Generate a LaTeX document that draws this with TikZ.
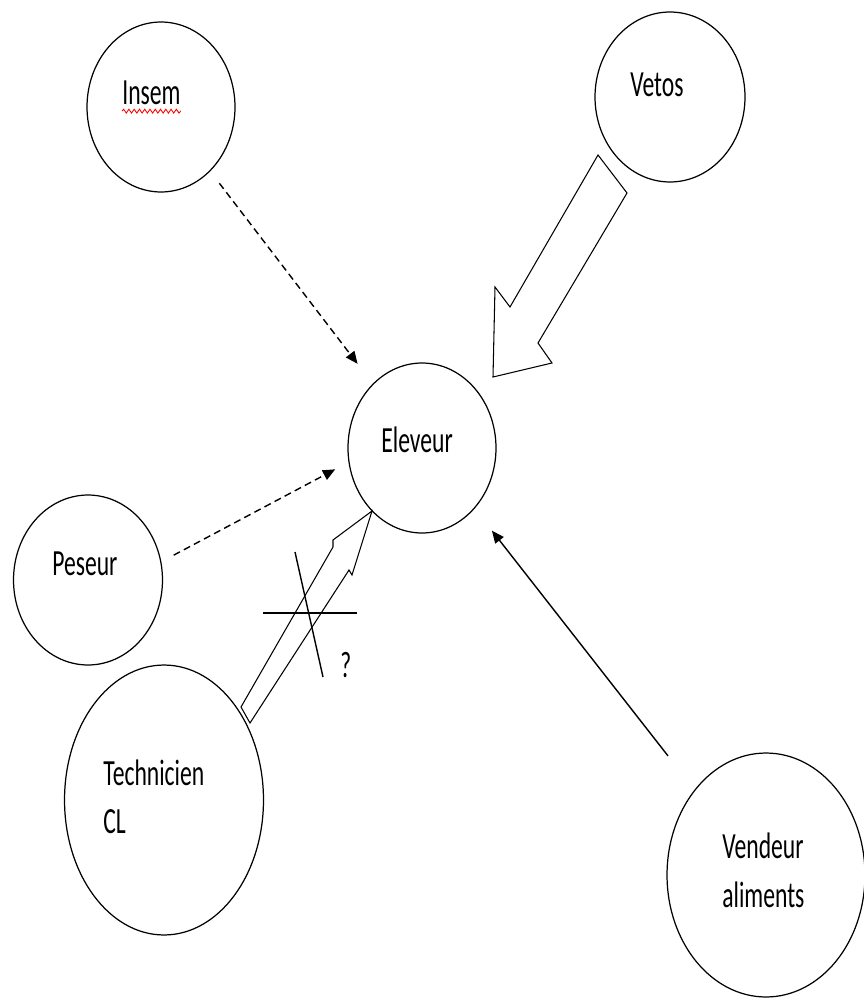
\documentclass[tikz,border=0pt]{standalone}
\usepackage{fontspec}
\newfontfamily\calib{Carlito}[FakeStretch=0.64]
\usetikzlibrary{shapes.geometric,arrows.meta,decorations.pathmorphing}

\begin{document}
\begin{tikzpicture}[x=0.02cm,y=-0.02cm,
	bubble/.style={draw,ellipse,line width=0.7pt,inner sep=0pt},
	lbl/.style={anchor=base west,inner sep=0pt,font=\calib\fontsize{21}{28}\selectfont},
	dasharrow/.style={dash pattern=on 4pt off 2.5pt,line width=0.8pt,-{Triangle[length=7pt,width=6pt]}},
	solidarrow/.style={line width=0.8pt,-{Triangle[length=7pt,width=6pt]}},
	blockarrow/.style={draw,line width=0.6pt,fill=white,line join=miter}]
	\useasboundingbox (0,0) rectangle (864,1000);
	\node[bubble,minimum width=2.96cm,minimum height=3.4cm] (insem) at (161,107) {};
	\node[bubble,minimum width=3cm,minimum height=3.4cm] (vetos) at (670,97) {};
	\node[bubble,minimum width=2.98cm,minimum height=3.4cm] (peseur) at (88,580) {};
	\node[bubble,minimum width=2.96cm,minimum height=3.4cm] (eleveur) at (422,448) {};
	\node[bubble,minimum width=3.98cm,minimum height=5.4cm] (technicien) at (164,800) {};
	\node[bubble,minimum width=3.96cm,minimum height=4.88cm] (vendeur) at (766,875) {};
	\node[lbl] (tInsem) at (122,105) {Insem};
	\node[lbl] (tVetos) at (630,97) {Vetos};
	\node[lbl] (tPeseur) at (52,575) {Peseur};
	\node[lbl] (tEleveur) at (381,452) {Eleveur};
	\node[lbl] (tTech1) at (103,785) {Technicien};
	\node[lbl] (tTech2) at (103,833) {CL};
	\node[lbl] (tVend1) at (722,858) {Vendeur};
	\node[lbl] (tVend2) at (722,907) {aliments};
	\node[lbl] (tQuest) at (340,677) {?};
	\draw[red,line width=0.5pt,decorate,decoration={snake,amplitude=1.1pt,segment length=3pt}]
		([yshift=-3.5pt]tInsem.base west) -- ([yshift=-3.5pt]tInsem.base east);
	\draw[dasharrow,shorten <=0.3cm,shorten >=0.5cm] (insem) -- (eleveur);
	\draw[dasharrow,shorten <=0.28cm,shorten >=0.3cm] (peseur.14) -- (eleveur.191);
	\draw[solidarrow,shorten <=0.86cm,shorten >=0.56cm] (vendeur.130) -- (eleveur.-49);
	\draw[blockarrow] (598,155) -- (627,193) -- (538,343) -- (552,363) -- (493,377)
		-- (495,287) -- (510,307) -- cycle;
	\draw[blockarrow] (241,707) -- (333,547) -- (333,540) -- (372,511) -- (352,575)
		-- (349,570) -- (250,723) -- cycle;
	\draw[line width=0.8pt] (263,613) -- (357,613);
	\draw[line width=0.8pt] (295,552) -- (323,677);
\end{tikzpicture}
\end{document}
